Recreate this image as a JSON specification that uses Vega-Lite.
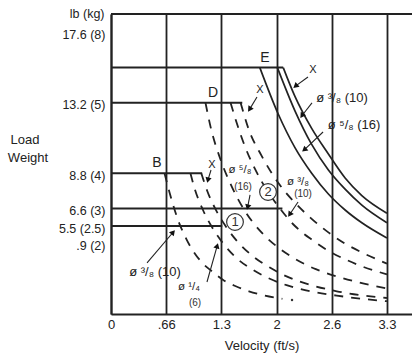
{
  "$schema": "https://vega.github.io/schema/vega-lite/v6.json",
  "width": 301,
  "height": 300,
  "autosize": "none",
  "padding": {"left": 111, "top": 14, "right": 0, "bottom": 48},
  "background": "white",
  "config": {
    "view": {"stroke": null},
    "font": "Liberation Sans",
    "text": {"font": "Liberation Sans", "color": "#222"}
  },
  "datasets": {
    "solid": [
      {"c": "A", "v": 1.78, "w": 15.4}, {"c": "A", "v": 2.0, "w": 12.5}, {"c": "A", "v": 2.2, "w": 10.4}, {"c": "A", "v": 2.4, "w": 8.8}, {"c": "A", "v": 2.6, "w": 7.5}, {"c": "A", "v": 2.8, "w": 6.5}, {"c": "A", "v": 3.0, "w": 5.7}, {"c": "A", "v": 3.3, "w": 4.75},
      {"c": "B", "v": 1.99, "w": 15.4}, {"c": "B", "v": 2.2, "w": 12.7}, {"c": "B", "v": 2.4, "w": 10.6}, {"c": "B", "v": 2.6, "w": 9.0}, {"c": "B", "v": 2.8, "w": 7.8}, {"c": "B", "v": 3.0, "w": 6.8}, {"c": "B", "v": 3.3, "w": 5.7},
      {"c": "C", "v": 2.06, "w": 15.4}, {"c": "C", "v": 2.2, "w": 13.6}, {"c": "C", "v": 2.4, "w": 11.6}, {"c": "C", "v": 2.6, "w": 10.0}, {"c": "C", "v": 2.8, "w": 8.5}, {"c": "C", "v": 3.0, "w": 7.4}, {"c": "C", "v": 3.3, "w": 6.3}
    ],
    "dashed": [
      {"c": "d4", "v": 0.64, "w": 8.8}, {"c": "d4", "v": 0.7, "w": 7.6}, {"c": "d4", "v": 0.8, "w": 5.9}, {"c": "d4", "v": 0.9, "w": 4.7}, {"c": "d4", "v": 1.0, "w": 3.8}, {"c": "d4", "v": 1.1, "w": 3.15}, {"c": "d4", "v": 1.2, "w": 2.7}, {"c": "d4", "v": 1.35, "w": 2.1}, {"c": "d4", "v": 1.5, "w": 1.72}, {"c": "d4", "v": 1.65, "w": 1.42}, {"c": "d4", "v": 1.8, "w": 1.2}, {"c": "d4", "v": 2.05, "w": 0.95},
      {"c": "d8", "v": 0.95, "w": 8.8}, {"c": "d8", "v": 1.0, "w": 7.85}, {"c": "d8", "v": 1.1, "w": 6.5}, {"c": "d8", "v": 1.2, "w": 5.5}, {"c": "d8", "v": 1.35, "w": 4.35}, {"c": "d8", "v": 1.5, "w": 3.5}, {"c": "d8", "v": 1.7, "w": 2.75}, {"c": "d8", "v": 1.9, "w": 2.2}, {"c": "d8", "v": 2.1, "w": 1.8}, {"c": "d8", "v": 2.4, "w": 1.4}, {"c": "d8", "v": 2.7, "w": 1.15}, {"c": "d8", "v": 3.0, "w": 0.95}, {"c": "d8", "v": 3.3, "w": 0.8},
      {"c": "d10", "v": 1.08, "w": 8.8}, {"c": "d10", "v": 1.15, "w": 7.7}, {"c": "d10", "v": 1.25, "w": 6.55}, {"c": "d10", "v": 1.37, "w": 5.5}, {"c": "d10", "v": 1.5, "w": 4.6}, {"c": "d10", "v": 1.7, "w": 3.6}, {"c": "d10", "v": 1.9, "w": 2.9}, {"c": "d10", "v": 2.1, "w": 2.35}, {"c": "d10", "v": 2.4, "w": 1.8}, {"c": "d10", "v": 2.7, "w": 1.42}, {"c": "d10", "v": 3.0, "w": 1.17}, {"c": "d10", "v": 3.3, "w": 1.0},
      {"c": "d17", "v": 1.13, "w": 13.2}, {"c": "d17", "v": 1.2, "w": 11.5}, {"c": "d17", "v": 1.3, "w": 9.8}, {"c": "d17", "v": 1.45, "w": 7.9}, {"c": "d17", "v": 1.6, "w": 6.45}, {"c": "d17", "v": 1.8, "w": 5.1}, {"c": "d17", "v": 2.0, "w": 4.15}, {"c": "d17", "v": 2.2, "w": 3.45}, {"c": "d17", "v": 2.45, "w": 2.8}, {"c": "d17", "v": 2.7, "w": 2.35}, {"c": "d17", "v": 3.0, "w": 1.93}, {"c": "d17", "v": 3.3, "w": 1.6},
      {"c": "d27", "v": 1.43, "w": 13.2}, {"c": "d27", "v": 1.5, "w": 12.0}, {"c": "d27", "v": 1.6, "w": 10.5}, {"c": "d27", "v": 1.8, "w": 8.3}, {"c": "d27", "v": 2.02, "w": 6.6}, {"c": "d27", "v": 2.2, "w": 5.5}, {"c": "d27", "v": 2.4, "w": 4.65}, {"c": "d27", "v": 2.6, "w": 3.95}, {"c": "d27", "v": 2.8, "w": 3.42}, {"c": "d27", "v": 3.0, "w": 2.98}, {"c": "d27", "v": 3.3, "w": 2.48},
      {"c": "d32", "v": 1.55, "w": 13.2}, {"c": "d32", "v": 1.65, "w": 11.5}, {"c": "d32", "v": 1.8, "w": 9.9}, {"c": "d32", "v": 2.0, "w": 8.2}, {"c": "d32", "v": 2.2, "w": 6.95}, {"c": "d32", "v": 2.4, "w": 5.95}, {"c": "d32", "v": 2.6, "w": 5.1}, {"c": "d32", "v": 2.8, "w": 4.4}, {"c": "d32", "v": 3.0, "w": 3.85}, {"c": "d32", "v": 3.3, "w": 3.15}
    ],
    "levels": [
      {"v": 0, "v2": 2.06, "w": 15.4},
      {"v": 0, "v2": 1.57, "w": 13.2},
      {"v": 0, "v2": 1.09, "w": 8.8},
      {"v": 0, "v2": 2.05, "w": 6.6},
      {"v": 0, "v2": 1.33, "w": 5.5},
      {"v": 0, "v2": 3.6, "w": 18.75}
    ],
    "shafts": [
      {"v": 2.356, "w": 14.81, "v2": 2.206, "w2": 14.24},
      {"v": 2.404, "w": 13.19, "v2": 2.283, "w2": 12.39},
      {"v": 2.536, "w": 11.375, "v2": 2.311, "w2": 10.26},
      {"v": 1.746, "w": 13.56, "v2": 1.657, "w2": 12.79},
      {"v": 1.196, "w": 9.0, "v2": 1.159, "w2": 8.37},
      {"v": 1.663, "w": 7.44, "v2": 1.634, "w2": 6.68},
      {"v": 2.237, "w": 7.0, "v2": 2.137, "w2": 6.22},
      {"v": 0.431, "w": 3.19, "v2": 0.743, "w2": 5.11},
      {"v": 1.148, "w": 2.0, "v2": 1.27, "w2": 4.26}
    ],
    "heads": [
      {"g": "a", "v": 1.159, "w": 8.37},
      {"g": "a", "v": 1.634, "w": 6.68},
      {"g": "b", "v": 2.283, "w": 12.39},
      {"g": "b", "v": 1.657, "w": 12.79},
      {"g": "b", "v": 2.137, "w": 6.22},
      {"g": "c", "v": 2.206, "w": 14.24},
      {"g": "c", "v": 2.311, "w": 10.26},
      {"g": "d", "v": 0.743, "w": 5.11},
      {"g": "e", "v": 1.27, "w": 4.26}
    ],
    "circles": [
      {"v": 1.483, "w": 5.75, "t": "1"},
      {"v": 1.878, "w": 7.625, "t": "2"}
    ],
    "big": [
      {"v": 1.842, "w": 16.0, "t": "E"},
      {"v": 1.22, "w": 13.81, "t": "D"},
      {"v": 0.55, "w": 9.44, "t": "B"}
    ],
    "xs": [
      {"v": 2.416, "w": 15.25, "t": "X"},
      {"v": 1.782, "w": 14.0, "t": "X"},
      {"v": 1.208, "w": 9.31, "t": "X"}
    ],
    "phi": [
      {"v": 2.763, "w": 13.5, "t": "ø ³/₈ (10)"},
      {"v": 2.907, "w": 11.81, "t": "ø ⁵/₈ (16)"},
      {"v": 0.526, "w": 2.625, "t": "ø ³/₈ (10)"}
    ],
    "phismall": [
      {"v": 1.543, "w": 9.0, "t": "ø ⁵/₈"},
      {"v": 2.237, "w": 8.25, "t": "ø ³/₈"},
      {"v": 0.933, "w": 1.69, "t": "ø ¹/₄"}
    ],
    "small": [
      {"v": 1.579, "w": 7.94, "t": "(16)"},
      {"v": 2.297, "w": 7.5, "t": "(10)"},
      {"v": 1.005, "w": 0.69, "t": "(6)"}
    ],
    "side": [
      {"v": -1.029, "w": 10.875, "t": "Load"},
      {"v": -0.993, "w": 9.75, "t": "Weight"}
    ],
    "dot": [
      {"v": 2.165, "w": 0.875}
    ]
  },
  "encoding": {
    "x": {
      "field": "v",
      "type": "quantitative",
      "scale": {"domain": [0, 3.6], "nice": false, "zero": false},
      "axis": {
        "values": [0, 0.66, 1.32, 1.98, 2.64, 3.3],
        "labelExpr": "['0','.66','1.3','2','2.6','3.3'][indexof([0,0.66,1.32,1.98,2.64,3.3], datum.value)]",
        "title": "Velocity (ft/s)",
        "grid": true,
        "gridColor": "#222",
        "gridWidth": 1.8,
        "gridOpacity": 1,
        "ticks": false,
        "domainColor": "#222",
        "domainWidth": 2,
        "labelFont": "Liberation Sans",
        "labelFontSize": 13,
        "labelColor": "#222",
        "labelPadding": 4,
        "labelFlush": false,
        "titleFont": "Liberation Sans",
        "titleFontSize": 13,
        "titleFontWeight": "normal",
        "titleColor": "#222",
        "titlePadding": 8
      }
    },
    "y": {
      "field": "w",
      "type": "quantitative",
      "scale": {"domain": [0, 18.75], "nice": false, "zero": false},
      "axis": {
        "values": [4.4, 5.5, 6.6, 8.8, 13.2, 17.6],
        "labelExpr": "['.9 (2)','5.5 (2.5)','6.6 (3)','8.8 (4)','13.2 (5)','17.6 (8)'][indexof([4.4,5.5,6.6,8.8,13.2,17.6], datum.value)]",
        "title": "lb (kg)",
        "titleAngle": 0,
        "titleAlign": "right",
        "titleBaseline": "middle",
        "titleX": -7,
        "titleY": -1,
        "grid": false,
        "ticks": false,
        "domainColor": "#222",
        "domainWidth": 2,
        "labelFont": "Liberation Sans",
        "labelFontSize": 12.5,
        "labelColor": "#222",
        "labelPadding": 6,
        "labelOffset": 2,
        "titleFont": "Liberation Sans",
        "titleFontSize": 12.5,
        "titleFontWeight": "normal",
        "titleColor": "#222"
      }
    }
  },
  "layer": [
    {
      "data": {"name": "levels"},
      "mark": {"type": "rule", "color": "#222", "strokeWidth": 2},
      "encoding": {"x2": {"field": "v2"}}
    },
    {
      "data": {"name": "solid"},
      "mark": {"type": "line", "color": "#222", "strokeWidth": 1.7, "interpolate": "monotone"},
      "encoding": {"detail": {"field": "c"}}
    },
    {
      "data": {"name": "dashed"},
      "mark": {"type": "line", "color": "#222", "strokeWidth": 1.8, "strokeDash": [9, 8], "interpolate": "monotone"},
      "encoding": {"detail": {"field": "c"}}
    },
    {
      "data": {"name": "shafts"},
      "mark": {"type": "rule", "color": "#222", "strokeWidth": 1.1},
      "encoding": {"x2": {"field": "v2"}, "y2": {"field": "w2"}}
    },
    {
      "data": {"name": "heads"},
      "transform": [{"filter": "datum.g == 'a'"}],
      "mark": {"type": "point", "shape": "triangle-up", "angle": 194, "filled": true, "size": 40, "color": "#111", "opacity": 1}
    },
    {
      "data": {"name": "heads"},
      "transform": [{"filter": "datum.g == 'b'"}],
      "mark": {"type": "point", "shape": "triangle-up", "angle": 214, "filled": true, "size": 40, "color": "#111", "opacity": 1}
    },
    {
      "data": {"name": "heads"},
      "transform": [{"filter": "datum.g == 'c'"}],
      "mark": {"type": "point", "shape": "triangle-up", "angle": 230, "filled": true, "size": 40, "color": "#111", "opacity": 1}
    },
    {
      "data": {"name": "heads"},
      "transform": [{"filter": "datum.g == 'd'"}],
      "mark": {"type": "point", "shape": "triangle-up", "angle": 40, "filled": true, "size": 40, "color": "#111", "opacity": 1}
    },
    {
      "data": {"name": "heads"},
      "transform": [{"filter": "datum.g == 'e'"}],
      "mark": {"type": "point", "shape": "triangle-up", "angle": 16, "filled": true, "size": 40, "color": "#111", "opacity": 1}
    },
    {
      "data": {"name": "circles"},
      "mark": {"type": "point", "shape": "circle", "size": 280, "filled": false, "fill": "white", "fillOpacity": 1, "stroke": "#333", "strokeWidth": 1.2, "opacity": 1}
    },
    {
      "data": {"name": "circles"},
      "mark": {"type": "text", "fontSize": 13, "align": "center", "baseline": "middle", "color": "#333"},
      "encoding": {"text": {"field": "t"}}
    },
    {
      "data": {"name": "big"},
      "mark": {"type": "text", "fontSize": 14, "align": "center", "baseline": "middle", "color": "#222"},
      "encoding": {"text": {"field": "t"}}
    },
    {
      "data": {"name": "xs"},
      "mark": {"type": "text", "fontSize": 11, "align": "center", "baseline": "middle", "color": "#222"},
      "encoding": {"text": {"field": "t"}}
    },
    {
      "data": {"name": "phi"},
      "mark": {"type": "text", "fontSize": 13, "align": "center", "baseline": "middle", "color": "#222"},
      "encoding": {"text": {"field": "t"}}
    },
    {
      "data": {"name": "phismall"},
      "mark": {"type": "text", "fontSize": 11.5, "align": "center", "baseline": "middle", "color": "#222"},
      "encoding": {"text": {"field": "t"}}
    },
    {
      "data": {"name": "small"},
      "mark": {"type": "text", "fontSize": 10, "align": "center", "baseline": "middle", "color": "#333"},
      "encoding": {"text": {"field": "t"}}
    },
    {
      "data": {"name": "side"},
      "mark": {"type": "text", "fontSize": 13, "align": "center", "baseline": "middle", "color": "#222"},
      "encoding": {"text": {"field": "t"}}
    },
    {
      "data": {"name": "dot"},
      "mark": {"type": "point", "shape": "circle", "size": 6, "filled": true, "color": "#333", "opacity": 1}
    }
  ]
}
